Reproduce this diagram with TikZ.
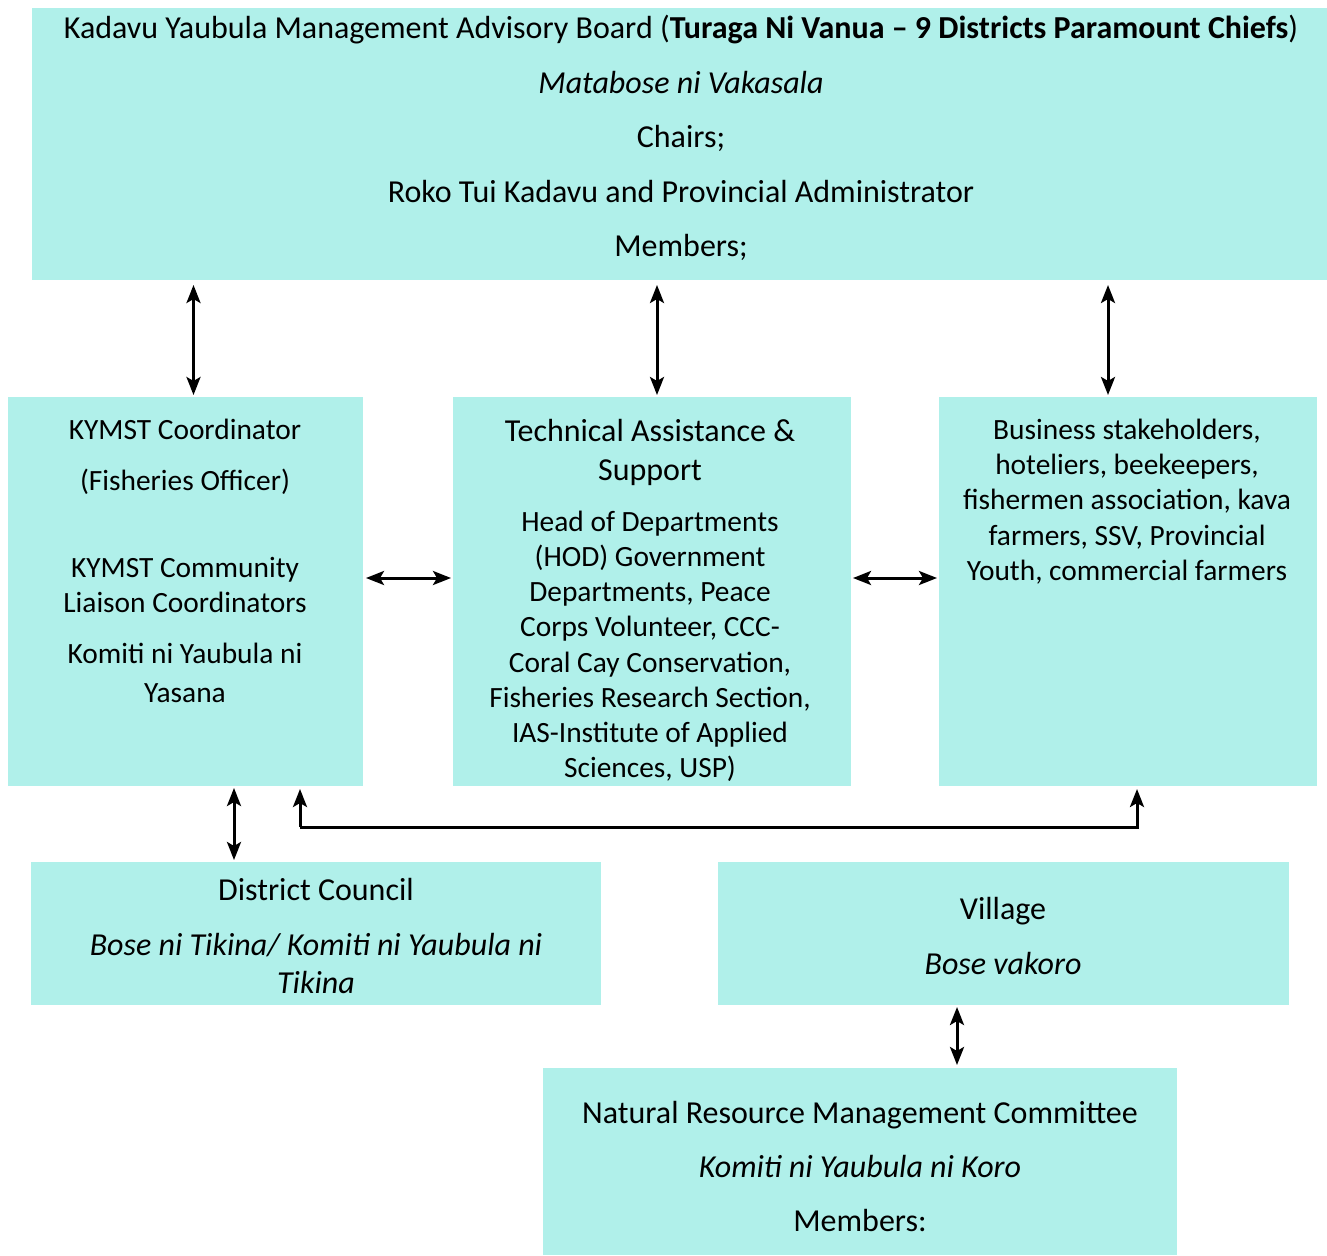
\documentclass[tikz,border=0pt]{standalone}
\usepackage{fontspec}
\setmainfont{Carlito}
\usetikzlibrary{arrows.meta}
\definecolor{boxfill}{HTML}{B0F0EA}
\tikzset{
  box/.style={rectangle, fill=boxfill, draw=none, inner sep=0pt, outer sep=0pt, anchor=north west},
  txt/.style={anchor=base, inner sep=0pt, yshift=-1pt, font=\fontsize{32}{35}\selectfont},
  stxt/.style={anchor=base, inner sep=0pt, yshift=-1pt, font=\fontsize{29.4}{35}\selectfont},
  arr/.style={line width=3pt, {Stealth[length=18pt,width=14pt,inset=4pt]}-{Stealth[length=18pt,width=14pt,inset=4pt]}},
  arrone/.style={line width=3pt, -{Stealth[length=18pt,width=14pt,inset=4pt]}},
}
\begin{document}
\begin{tikzpicture}[x=1pt,y=-1pt]
\useasboundingbox (0,0) rectangle (1327,1255);
% boxes
\node[box, minimum width=1295pt, minimum height=272pt] (top) at (32,8) {};
\node[box, minimum width=355pt, minimum height=389pt] (left) at (8,397) {};
\node[box, minimum width=398pt, minimum height=389pt] (mid) at (453,397) {};
\node[box, minimum width=378pt, minimum height=389pt] (right) at (939,397) {};
\node[box, minimum width=570pt, minimum height=143pt] (dist) at (31,862) {};
\node[box, minimum width=571pt, minimum height=143pt] (vill) at (718,862) {};
\node[box, minimum width=634pt, minimum height=187pt] (nrmc) at (543,1068) {};
% top texts
\node[txt] (t1) at (681,38) {Kadavu Yaubula Management Advisory Board (\textbf{Turaga Ni Vanua – 9 Districts Paramount Chiefs})};
\node[txt] (t2) at (681,92) {\textit{Matabose ni Vakasala}};
\node[txt] (t3) at (681,146) {Chairs;};
\node[txt] (t4) at (681,201) {Roko Tui Kadavu and Provincial Administrator};
\node[txt] (t5) at (681,255) {Members;};
% left texts
\node[stxt] (l1) at (185,438) {KYMST Coordinator};
\node[stxt] (l2) at (185,489) {(Fisheries Officer)};
\node[stxt] (l3) at (185,576) {KYMST Community};
\node[stxt] (l4) at (185,611) {Liaison Coordinators};
\node[stxt] (l5) at (185,662) {Komiti ni Yaubula ni};
\node[stxt] (l6) at (185,701) {Yasana};
% middle texts
\node[txt] (m1) at (650,440) {Technical Assistance \&};
\node[txt] (m2) at (650,479) {Support};
\node[stxt] (m3) at (650,530) {Head of Departments};
\node[stxt] (m4) at (650,565) {(HOD) Government};
\node[stxt] (m5) at (650,600) {Departments, Peace};
\node[stxt] (m6) at (650,635) {Corps Volunteer, CCC-};
\node[stxt] (m7) at (650,671) {Coral Cay Conservation,};
\node[stxt] (m8) at (650,706) {Fisheries Research Section,};
\node[stxt] (m9) at (650,741) {IAS-Institute of Applied};
\node[stxt] (m10) at (650,776) {Sciences, USP)};
% right texts
\node[stxt] (r1) at (1127,438) {Business stakeholders,};
\node[stxt] (r2) at (1127,473) {hoteliers, beekeepers,};
\node[stxt] (r3) at (1127,508) {fishermen association, kava};
\node[stxt] (r4) at (1127,544) {farmers, SSV, Provincial};
\node[stxt] (r5) at (1127,579) {Youth, commercial farmers};
% district
\node[txt] (d1) at (316,899) {District Council};
\node[txt] (d2) at (316,954) {\textit{Bose ni Tikina/ Komiti ni Yaubula ni}};
\node[txt] (d3) at (316,992) {\textit{Tikina}};
% village
\node[txt] (v1) at (1003,918) {Village};
\node[txt] (v2) at (1003,973) {\textit{Bose vakoro}};
% nrmc
\node[txt] (n1) at (860,1122) {Natural Resource Management Committee};
\node[txt] (n2) at (860,1176) {\textit{Komiti ni Yaubula ni Koro}};
\node[txt] (n3) at (860,1230) {Members:};
% connectors
\draw[arr, shorten <=2pt, shorten >=5pt] ([xshift=8pt]left.north) -- ([xshift=8pt]left.north |- top.south);
\draw[arr, shorten <=2pt, shorten >=5pt] ([xshift=5pt]mid.north) -- ([xshift=5pt]mid.north |- top.south);
\draw[arr, shorten <=2pt, shorten >=5pt] ([xshift=-20pt]right.north) -- ([xshift=-20pt]right.north |- top.south);
\draw[arr, shorten <=3pt, shorten >=2pt] (left.east |- 0,578) -- (mid.west |- 0,578);
\draw[arr, shorten <=2pt, shorten >=2pt] (mid.east |- 0,578) -- (right.west |- 0,578);
\draw[arr, shorten <=2pt, shorten >=2pt] (left.south -| 234,0) -- (dist.north -| 234,0);
\draw[arr, shorten <=2pt, shorten >=3pt] (vill.south -| 957,0) -- (nrmc.north -| 957,0);
\coordinate (c1) at (300,827);
\coordinate (c2) at (1137,827);
\draw[arrone, shorten >=3pt] (c1) -- (left.south -| c1);
\draw[arrone, shorten >=3pt] (c1) -- (c2) -- (right.south -| c2);
\end{tikzpicture}
\end{document}
